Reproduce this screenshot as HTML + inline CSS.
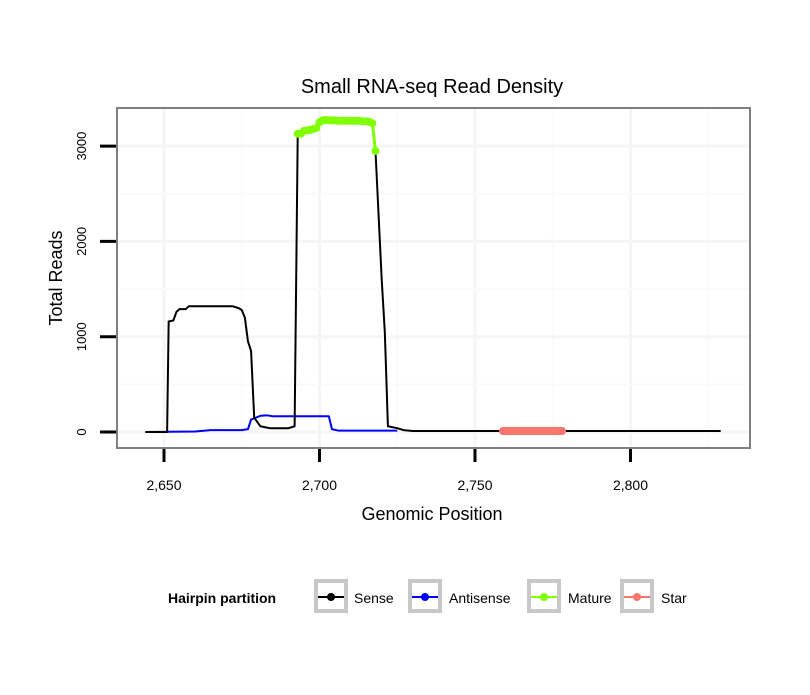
<!DOCTYPE html>
<html><head><style>body{margin:0;background:#fff}svg text{font-family:"Liberation Sans",sans-serif}</style></head>
<body>
<svg id="c" width="810" height="690" xmlns="http://www.w3.org/2000/svg">
<rect width="810" height="690" fill="#fff"/>
<defs><clipPath id="pc"><rect x="117" y="108" width="633" height="340"/></clipPath></defs>
<text x="432" y="93" font-size="20" text-anchor="middle">Small RNA-seq Read Density</text>
<g id="grid" clip-path="url(#pc)"></g><g id="marks"></g><g id="axes"></g>
<rect x="117" y="108" width="633" height="340" fill="none" stroke="#7f7f7f" stroke-width="2"/>
<text x="432" y="520" font-size="18" text-anchor="middle">Genomic Position</text>
<text transform="translate(62,278) rotate(-90)" font-size="18" text-anchor="middle">Total Reads</text>
<g id="legend">
<text x="168" y="603" font-size="14" font-weight="bold">Hairpin partition</text>
</g>
</svg>
<script>
const xTicks=[2650,2700,2750,2800];
const yTicks=[0,1000,2000,3000];
const sensePos=[2644,2651,2651.5,2653,2654,2655,2657,2658,2660,2672,2674,2675,2676,2677,2678,2679,2681,2684,2690,2692,2693,2695,2697,2699,2700,2701,2705,2710,2716,2717,2718,2720,2721,2722,2725,2727,2730,2829];
const senseVal=[0,0,1160,1170,1260,1290,1290,1320,1320,1320,1300,1280,1200,950,850,150,60,40,40,60,3130,3160,3170,3190,3250,3270,3270,3265,3255,3240,2950,1600,1050,60,40,20,10,10];
const antiPos=[2644,2660,2665,2675,2677,2678,2681,2683,2685,2699,2703,2704,2706,2725];
const antiVal=[0,5,20,20,30,130,170,175,165,165,165,30,15,15];
const maturePos=[2693,2694,2695,2696,2697,2698,2699,2700,2701,2702,2703,2704,2705,2706,2707,2708,2709,2710,2711,2712,2713,2714,2715,2716,2717,2718];
const matureVal=[3130,3130,3160,3165,3170,3180,3190,3250,3270,3275,3270,3270,3270,3265,3265,3265,3265,3265,3265,3265,3265,3260,3260,3255,3240,2950];
const starPos=[2759,2760,2762,2764,2766,2768,2770,2772,2774,2776,2778];
const starVal=[10,10,10,10,10,10,10,10,10,10,10];
const X=v=>164+(v-2650)*3.11, Y=v=>432-v*0.0953;
const NS="http://www.w3.org/2000/svg";
function mk(t,a,p){const e=document.createElementNS(NS,t);for(const k in a)e.setAttribute(k,a[k]);p.appendChild(e);return e;}
const g=document.getElementById('grid'),m=document.getElementById('marks'),ax=document.getElementById('axes');
for(let i=0;i<xTicks.length;i++){
 const x=X(xTicks[i]);
 const l=mk('line',{x1:x,x2:x,y1:108,y2:448,stroke:'#f5f5f5','stroke-width':3},g);
 
 
 const xm=X(xTicks[i]+25);
 const lm=mk('line',{x1:xm,x2:xm,y1:108,y2:448,stroke:'#fafafa','stroke-width':2},g);
 
 
 const t=mk('line',{x1:x,x2:x,y1:448,y2:462,stroke:'#000','stroke-width':3},ax);
 
 
 const tx=mk('text',{x:x,y:490,'font-size':14,'text-anchor':'middle'},ax);
 tx.textContent=xTicks[i].toLocaleString('en-US');
 
 
}
for(let i=0;i<yTicks.length;i++){
 const y=Y(yTicks[i]);
 const l=mk('line',{x1:117,x2:750,y1:y,y2:y,stroke:'#f5f5f5','stroke-width':3},g);
 
 
 const ym=Y(yTicks[i]+500);
 const lm=mk('line',{x1:117,x2:750,y1:ym,y2:ym,stroke:'#fafafa','stroke-width':2},g);
 
 
 const t=mk('line',{x1:100,x2:117,y1:y,y2:y,stroke:'#000','stroke-width':3},ax);
 
 
 const tx=mk('text',{transform:`translate(86,${y}) rotate(-90)`,'font-size':13,'text-anchor':'middle'},ax);
 tx.textContent=yTicks[i];
 
 
}
function line(P,V,c,w,name){const p=mk('polyline',{points:P.map((v,i)=>X(v)+','+Y(V[i])).join(' '),fill:'none',stroke:c,'stroke-width':w,'stroke-linejoin':'round'},m);
 
 }
line(antiPos,antiVal,'#0000ff',2,'antisense-line');
line(sensePos,senseVal,'#000',2,'sense-line');
line(starPos,starVal,'#f8766d',8,'star-line');
line(maturePos,matureVal,'#7fff00',3,'mature-line');
maturePos.forEach((v,i)=>{const c=mk('circle',{cx:X(v),cy:Y(matureVal[i]),r:4,fill:'#7fff00'},m);
 
 });
starPos.forEach((v,i)=>{const c=mk('circle',{cx:X(v),cy:Y(starVal[i]),r:4,fill:'#f8766d'},m);
 
 });
const lg=document.getElementById('legend');
const entries=[['Sense','#000',314,354],['Antisense','#0000ff',408,449],['Mature','#7fff00',527,568],['Star','#f8766d',620,661]];
entries.forEach(e=>{
 const gg=mk('g',{},lg);
 
 
 mk('rect',{x:e[2]+2,y:581,width:30,height:30,fill:'none',stroke:'#c8c8c8','stroke-width':4},gg);
 mk('line',{x1:e[2]+4,x2:e[2]+30,y1:597,y2:597,stroke:e[1],'stroke-width':2},gg);
 mk('circle',{cx:e[2]+17,cy:597,r:4,fill:e[1]},gg);
 const t=mk('text',{x:e[3],y:603,'font-size':14},gg);t.textContent=e[0];
});
</script>
</body></html>
